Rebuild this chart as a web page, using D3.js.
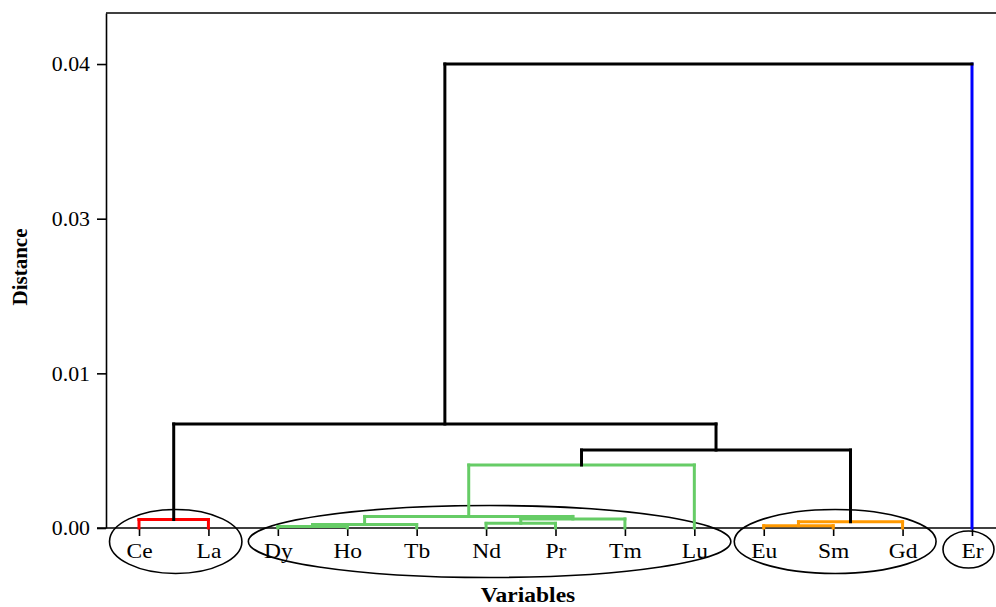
<!DOCTYPE html>
<html>
<head>
<meta charset="utf-8">
<script src="https://cdn.jsdelivr.net/npm/d3@7"></script>
<style>
  html, body { margin: 0; padding: 0; background: #fff; }
  svg { display: block; }
  text { font-family: "Liberation Serif", "Times New Roman", serif; fill: #000; }
</style>
</head>
<body>
<svg id="chart" width="996" height="607"></svg>
<script>
// ---- data ----
const leaves = ["Ce", "La", "Dy", "Ho", "Tb", "Nd", "Pr", "Tm", "Lu", "Eu", "Sm", "Gd", "Er"];
const leafGroup = ["red", "red", "green", "green", "green", "green", "green", "green", "green", "orange", "orange", "orange", "blue"];
// merges: node ids continue after the leaves (13, 14, ...)
const mergeLeft   = [2, 13, 5, 15, 14, 17, 0, 9, 20, 18, 19, 23];
const mergeRight  = [3, 4, 6, 7, 16, 8, 1, 10, 11, 21, 22, 12];
const mergeHeight = [0.00013, 0.0003, 0.0004, 0.00078, 0.001, 0.00543, 0.00073, 0.0002, 0.00054, 0.00672, 0.00897, 0.04];
const mergeGroup  = ["green", "green", "green", "green", "green", "green", "red", "orange", "orange", "black", "black", "black"];
const tickValues = [0, 0.04 / 3, 0.08 / 3, 0.04];
const tickLabels = ["0.00", "0.01", "0.03", "0.04"];
const clusterFirst = ["Ce", "Dy", "Eu", "Er"];
const clusterLast  = ["La", "Lu", "Gd", "Er"];

// ---- style ----
const colors = { red: "#ff0000", green: "#66cc66", orange: "#ff9900", blue: "#0000ff", black: "#000000" };
const stretch = 1.12;
const tickStretch = 1.04;

const svg = d3.select("#chart");
const x = d3.scalePoint().domain(leaves).range([104.3, 1006.7]).padding(0.5);
const y = d3.scaleLinear().domain([0, 0.0444]).range([528, 13]);

// frame top line
svg.append("line")
  .attr("x1", 106).attr("x2", 996)
  .attr("y1", y(0.0444)).attr("y2", y(0.0444))
  .attr("stroke", "#000").attr("stroke-width", 1.6);

// y axis
const gy = svg.append("g").attr("transform", "translate(106,0)")
  .call(d3.axisLeft(y).tickValues(tickValues).tickFormat((d, i) => tickLabels[i]).tickSize(9).tickSizeOuter(0));
gy.select(".domain").attr("stroke-width", 1.6);
gy.selectAll(".tick line").attr("stroke-width", 1.6);
gy.selectAll(".tick text")
  .attr("x", 0)
  .attr("transform", `translate(-16,0) scale(${tickStretch},1)`)
  .style("font-size", "21px")
  .style("font-family", '"Liberation Serif", "Times New Roman", serif');

// x axis
const gx = svg.append("g").attr("transform", "translate(0,528)")
  .call(d3.axisBottom(x).tickSize(8).tickPadding(7).tickSizeOuter(0));
gx.select(".domain").attr("stroke-width", 1.6).attr("d", "M97,0H996");
gx.selectAll(".tick line").attr("stroke-width", 1.6);
gx.selectAll(".tick text")
  .attr("transform", `scale(${stretch},1)`)
  .style("font-size", "21px")
  .style("font-family", '"Liberation Serif", "Times New Roman", serif');

// cluster ellipses
const ellipses = clusterFirst.map((f, i) => {
  const a = x(f), b = x(clusterLast[i]);
  const single = f === clusterLast[i];
  return {
    cx: (a + b) / 2 + (single ? -3.5 : (b - a > 300 ? 3.5 : 2)),
    cy: single ? 549.5 : 541.5,
    rx: (b - a) / 2 + (single ? 25.5 : (b - a > 300 ? 33 : 31.5)),
    ry: single ? 18.5 : (b - a > 300 ? 36 : 32)
  };
});
svg.append("g").selectAll("ellipse").data(ellipses).join("ellipse")
  .attr("cx", d => d.cx).attr("cy", d => d.cy)
  .attr("rx", d => d.rx).attr("ry", d => d.ry)
  .attr("fill", "none").attr("stroke", "#000").attr("stroke-width", 1.6);

// dendrogram links
const nodeX = leaves.map(l => x(l));
const nodeH = leaves.map(() => 0);
const n = leaves.length;
const links = svg.append("g").attr("fill", "none").attr("stroke-linecap", "square");
mergeLeft.forEach((l, i) => {
  const r = mergeRight[i];
  const h = mergeHeight[i];
  const id = n + i;
  nodeX[id] = (nodeX[l] + nodeX[r]) / 2;
  nodeH[id] = h;
  const col = colors[mergeGroup[i]];
  [l, r].forEach(c => {
    const vc = c < n ? colors[leafGroup[c]] : col;
    links.append("path")
      .attr("d", `M${nodeX[c]},${y(nodeH[c])}V${y(h)}`)
      .attr("stroke", vc).attr("stroke-width", 3);
  });
  links.append("path")
    .attr("d", `M${nodeX[l]},${y(h)}H${nodeX[r]}`)
    .attr("stroke", col).attr("stroke-width", 3);
});

// axis titles
svg.append("text")
  .attr("transform", `translate(528,602) scale(${stretch},1)`)
  .attr("text-anchor", "middle")
  .style("font-size", "21px").style("font-weight", "bold")
  .text("Variables");
svg.append("text")
  .attr("transform", "translate(27,267) rotate(-90)")
  .attr("text-anchor", "middle")
  .style("font-size", "21px").style("font-weight", "bold")
  .text("Distance");
</script>
</body>
</html>
